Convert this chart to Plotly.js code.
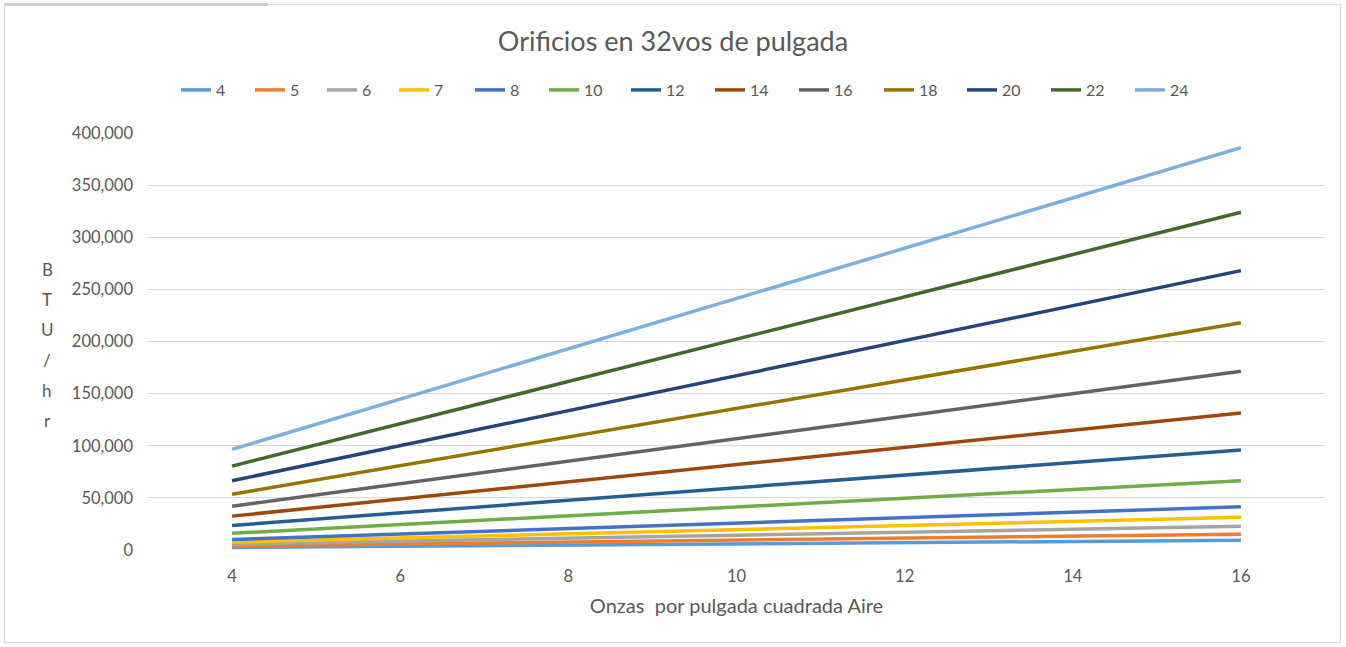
<!DOCTYPE html>
<html>
<head>
<meta charset="utf-8">
<script src="https://cdn.plot.ly/plotly-3.0.1.min.js"></script>
<style>
  html, body { margin: 0; padding: 0; background: #ffffff; }
  #frame { position: absolute; left: 4px; top: 4px; width: 1337px; height: 639px; border: 1px solid #d9d9d9; box-sizing: border-box; }
  #topbar { position: absolute; left: 4px; top: 3px; width: 264px; height: 3px; background: #d0d0d0; }
  #chart { position: absolute; left: 0; top: 0; width: 1346px; height: 647px; }
</style>
</head>
<body>
<div id="frame"></div>
<div id="topbar"></div>
<div id="chart"></div>
<script>
// Onzas por pulgada cuadrada (x)
const pressure = [4, 10, 16];
// Orifice sizes (32nds of an inch) = series names
const seriesNames = ["4", "5", "6", "7", "8", "10", "12", "14", "16", "18", "20", "22", "24"];
// BTU/hr values per series
const s4  = [2500, 5800, 9300];
const s5  = [3800, 9200, 15200];
const s6  = [5600, 14000, 22800];
const s7  = [7600, 19500, 31500];
const s8  = [10000, 25500, 41500];
const s10 = [16000, 41000, 66500];
const s12 = [23500, 60000, 96000];
const s14 = [32500, 82000, 131500];
const s16 = [42000, 107000, 171500];
const s18 = [53500, 136000, 218000];
const s20 = [66500, 167000, 268000];
const s22 = [80500, 202000, 324000];
const s24 = [96500, 241000, 386000];
const seriesValues = [s4, s5, s6, s7, s8, s10, s12, s14, s16, s18, s20, s22, s24];
const colors = ["#5B9BD5", "#ED7D31", "#A5A5A5", "#FFC000", "#4472C4", "#70AD47",
                "#255E91", "#9E480E", "#636363", "#997300", "#264478", "#43682B", "#7CAFDD"];
const xTicks = [4, 6, 8, 10, 12, 14, 16];
const yTicks = [0, 50000, 100000, 150000, 200000, 250000, 300000, 350000, 400000];
const yTickText = ["0", "50,000", "100,000", "150,000", "200,000", "250,000", "300,000", "350,000", "400,000"];
const yTitleChars = ["B", "T", "U", "/", "h", "r"];
// pixel start of each legend entry (layout only)
const legendStartPx = [172, 246, 318, 390, 466, 540, 622, 706, 790, 875, 958, 1042, 1126];

const FONT = "Lato, 'Open Sans', sans-serif";
const PL = 148, PW = 1177, PB = 550, PH = 417;

const traces = seriesNames.map((n, i) => ({
  type: "scatter", mode: "lines", name: n,
  legend: i === 0 ? "legend" : "legend" + (i + 1),
  x: pressure, y: seriesValues[i],
  line: { color: colors[i], width: 3.5 }
}));

const annotations = yTitleChars.map((c, i) => ({
  text: c, xref: "paper", yref: "paper", showarrow: false,
  x: (47 - PL) / PW, xanchor: "center",
  y: (PB - (269 + i * 30.4)) / PH, yanchor: "middle",
  font: { family: FONT, size: 17, color: "#595959" }
}));

const layout = {
  width: 1346, height: 647,
  margin: { l: PL, r: 1346 - PL - PW, t: PB - PH, b: 647 - PB },
  paper_bgcolor: "rgba(0,0,0,0)", plot_bgcolor: "rgba(0,0,0,0)",
  font: { family: FONT, color: "#595959", size: 16 },
  title: { text: "Orificios en 32vos de pulgada", x: 0.5, xanchor: "center", xref: "container",
           y: 1 - 42 / 647, yanchor: "middle", yref: "container",
           font: { family: FONT, size: 27, color: "#595959" } },
  showlegend: true,
  xaxis: { range: [3, 17], tickvals: xTicks, ticktext: xTicks.map(String), showgrid: false,
           zeroline: false, showline: false, ticks: "", tickfont: { size: 16.5 }, ticklabelstandoff: 14,
           title: { text: "Onzas  por pulgada cuadrada Aire", font: { size: 20, color: "#595959" }, standoff: 14 } },
  yaxis: { range: [0, 400000], tickvals: yTicks, ticktext: yTickText, showgrid: true,
           gridcolor: "#d9d9d9", gridwidth: 1, zeroline: false, showline: false, ticks: "",
           tickfont: { size: 16.5 }, ticklabelstandoff: 14 },
  annotations: annotations
};

seriesNames.forEach((n, i) => {
  const key = i === 0 ? "legend" : "legend" + (i + 1);
  layout[key] = {
    orientation: "h", x: (legendStartPx[i] + 4 - PL) / PW, xanchor: "left",
    y: (PB - 90) / PH, yanchor: "middle", bgcolor: "rgba(0,0,0,0)",
    font: { family: FONT, size: 16, color: "#595959" }
  };
});

Plotly.newPlot("chart", traces, layout, { displayModeBar: false, staticPlot: true });
</script>
</body>
</html>
